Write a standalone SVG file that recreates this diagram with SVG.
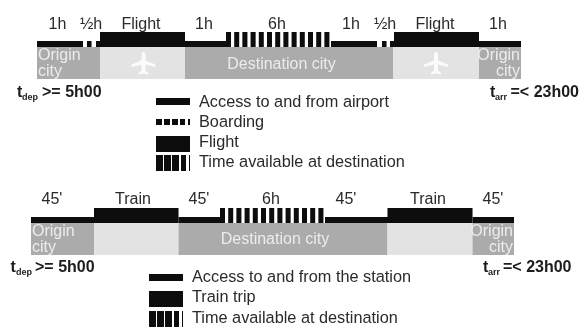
<svg xmlns="http://www.w3.org/2000/svg" width="581" height="329" viewBox="0 0 581 329">
<defs>
<filter id="soft" x="-5%" y="-5%" width="110%" height="110%"><feGaussianBlur stdDeviation="0.45"/></filter>
<path id="plane" d="M0-13C1.500-13 2-11 2-9V-4.500L12-0.500V2L2-0.500V5.500L5 8V9.500L0 8.500L-5 9.500V8L-2 5.500V-0.500L-12 2V-0.500L-2-4.500V-9C-2-11-1.500-13 0-13Z" fill="#fbfbfb"/>
<path id="stripes" d="M0 0h5v15h-5zM8.200 0h5v15h-5zM16.400 0h5v15h-5zM24.600 0h5v15h-5zM32.800 0h5v15h-5zM41 0h5v15h-5zM49.200 0h5v15h-5zM57.400 0h5v15h-5zM65.600 0h5v15h-5zM73.800 0h5v15h-5zM82 0h5v15h-5zM90.200 0h5v15h-5zM98.400 0h5v15h-5z" fill="#0a0a0a"/>
<path id="time-key" d="M0 0h7v16h-7zM8 0h7v16h-7zM16 0h7v16h-7zM25 0h5v16h-5zM33 0h1v16h-1z" fill="#0a0a0a"/>
</defs>
<style>
text{font-family:"Liberation Sans",Arial,sans-serif;font-size:16px;fill:#2a2a2a}
.t{font-size:16.300px}
.b{font-weight:700;fill:#1c1c1c}
.sub{font-size:9px;font-weight:700;fill:#1c1c1c}
.w{fill:#ececec}
.m{text-anchor:middle}
.e{text-anchor:end}
.k{fill:#0a0a0a}
.g{fill:#ababab}
.l{fill:#e3e3e3}
</style>
<rect width="581" height="329" fill="#fff"/>
<g filter="url(#soft)">
<g id="air-schedule">
<rect class="g" x="37" y="47" width="63" height="32"/>
<rect class="l" x="100" y="47" width="85" height="32"/>
<rect class="g" x="185" y="47" width="208" height="32"/>
<rect class="l" x="393" y="47" width="86" height="32"/>
<rect class="g" x="479" y="47" width="42" height="32"/>
<use href="#plane" x="143.500" y="65"/>
<use href="#plane" x="436" y="65"/>
<text x="57.500" y="29" class="m">1h</text>
<text x="91" y="29" class="m">½h</text>
<text x="141" y="29" class="m">Flight</text>
<text x="204" y="29" class="m">1h</text>
<text x="277" y="29" class="m">6h</text>
<text x="351" y="29" class="m">1h</text>
<text x="385" y="29" class="m">½h</text>
<text x="435" y="29" class="m">Flight</text>
<text x="498" y="29" class="m">1h</text>
<text x="38" y="60" class="w">Origin</text>
<text x="38" y="76" class="w">city</text>
<text x="281.500" y="69" class="w m">Destination city</text>
<text x="520" y="60" class="w e">Origin</text>
<text x="520" y="76" class="w e">city</text>
<text x="17" y="97" class="b">t<tspan class="sub" x="22" y="100">dep</tspan><tspan x="42" y="97">&gt;= 5h00</tspan></text>
<text x="490" y="97" class="b">t<tspan class="sub" x="495" y="100">arr</tspan><tspan x="510.500" y="97">=&lt; 23h00</tspan></text>
</g>
<g id="air-connectors">
<rect class="k" x="37" y="41" width="46" height="6"/>
<rect class="k" x="87" y="41" width="4.500" height="6"/>
<rect class="k" x="96" y="41" width="4" height="6"/>
<rect class="k" x="100" y="32" width="85" height="15"/>
<rect class="k" x="185" y="41" width="41" height="6"/>
<use href="#stripes" x="226" y="32"/>
<rect class="k" x="331" y="41" width="46" height="6"/>
<rect class="k" x="382" y="41" width="4.500" height="6"/>
<rect class="k" x="390" y="41" width="4" height="6"/>
<rect class="k" x="394" y="32" width="85" height="15"/>
<rect class="k" x="479" y="41" width="42" height="6"/>
</g>
<g id="air-legend">
<rect class="k" x="156" y="98" width="34" height="7"/>
<path class="k" d="M156 119h6v6h-6zM164 119h6v6h-6zM172 119h6v6h-6zM180 119h5v6h-5zM188 119h2v6h-2z"/>
<rect class="k" x="156" y="136" width="34" height="16"/>
<use href="#time-key" x="156" y="155"/>
<text x="199" y="107" class="t">Access to and from airport</text>
<text x="199" y="127" class="t">Boarding</text>
<text x="199" y="147" class="t">Flight</text>
<text x="199" y="167" class="t">Time available at destination</text>
</g>
<g id="train-schedule">
<rect class="g" x="31" y="223" width="63" height="32"/>
<rect class="l" x="94" y="223" width="84.500" height="32"/>
<rect class="g" x="178.500" y="223" width="209" height="32"/>
<rect class="l" x="387.500" y="223" width="85" height="32"/>
<rect class="g" x="472.500" y="223" width="41.500" height="32"/>
<text x="52" y="204" class="m">45'</text>
<text x="133" y="204" class="m">Train</text>
<text x="199" y="204" class="m">45'</text>
<text x="271" y="204" class="m">6h</text>
<text x="346" y="204" class="m">45'</text>
<text x="428" y="204" class="m">Train</text>
<text x="493" y="204" class="m">45'</text>
<text x="32" y="236" class="w">Origin</text>
<text x="32" y="252" class="w">city</text>
<text x="275" y="244" class="w m">Destination city</text>
<text x="513" y="236" class="w e">Origin</text>
<text x="513" y="252" class="w e">city</text>
<text x="10.500" y="272" class="b">t<tspan class="sub" x="16" y="275">dep</tspan><tspan x="35" y="272">&gt;= 5h00</tspan></text>
<text x="483" y="272" class="b">t<tspan class="sub" x="488" y="275">arr</tspan><tspan x="503" y="272">=&lt; 23h00</tspan></text>
</g>
<g id="train-connectors">
<rect class="k" x="31" y="217" width="63" height="6"/>
<rect class="k" x="94" y="208" width="84.500" height="15"/>
<rect class="k" x="178.500" y="217" width="41.500" height="6"/>
<use href="#stripes" x="220" y="208"/>
<rect class="k" x="325" y="217" width="63" height="6"/>
<rect class="k" x="387.500" y="208" width="85" height="15"/>
<rect class="k" x="472.500" y="217" width="41.500" height="6"/>
</g>
<g id="train-legend">
<rect class="k" x="149" y="274" width="34" height="7"/>
<rect class="k" x="149" y="291" width="34" height="16"/>
<use href="#time-key" x="149" y="311"/>
<text x="192" y="282" class="t">Access to and from the station</text>
<text x="192" y="302" class="t">Train trip</text>
<text x="192" y="323" class="t">Time available at destination</text>
</g>
</g>
</svg>
